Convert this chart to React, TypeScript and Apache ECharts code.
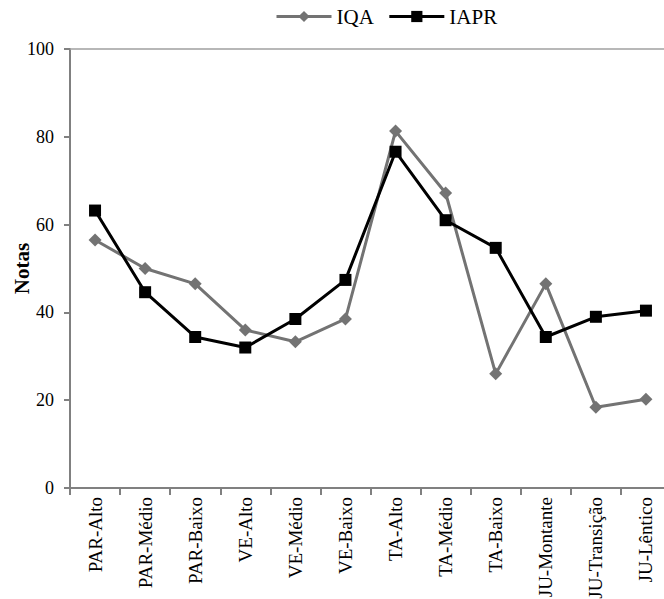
import React, { useEffect, useRef } from "react";
import * as echarts from "echarts";

const categories = [
  "PAR-Alto", "PAR-Médio", "PAR-Baixo", "VE-Alto", "VE-Médio", "VE-Baixo",
  "TA-Alto", "TA-Médio", "TA-Baixo", "JU-Montante", "JU-Transição", "JU-Lêntico",
];
const iqa = [56.5, 50, 46.5, 36, 33.3, 38.5, 81.3, 67.2, 26, 46.5, 18.4, 20.2];
const iapr = [63.2, 44.6, 34.4, 32, 38.5, 47.4, 76.6, 61, 54.7, 34.4, 39, 40.4];
const yTicks = [0, 20, 40, 60, 80, 100];

const FONT = "Liberation Serif";

export default function App() {
  const ref = useRef<HTMLDivElement>(null);
  useEffect(() => {
    const chart = echarts.init(ref.current!, undefined, { renderer: "svg" });
    chart.setOption({
      animation: false,
      backgroundColor: "#ffffff",
      textStyle: { fontFamily: FONT },
      legend: {
        top: 1,
        left: 270,
        itemWidth: 55,
        itemHeight: 14,
        itemGap: 14,
        lineStyle: { width: 3 },
        textStyle: { fontFamily: FONT, fontSize: 21, color: "#000" },
        data: ["IQA", "IAPR"],
      },
      grid: {
        left: 70,
        right: -7,
        top: 49,
        bottom: 111,
        containLabel: false,
        outerBoundsMode: "none",
      },
      xAxis: [
        {
          type: "category",
          data: categories,
          boundaryGap: true,
          axisLine: { lineStyle: { color: "#808080", width: 2 } },
          axisTick: { show: true, length: 7, lineStyle: { color: "#808080", width: 2 } },
          axisLabel: {
            rotate: 90,
            interval: 0,
            margin: 9,
            fontFamily: FONT,
            fontSize: 19,
            color: "#000",
          },
        },
        {
          type: "category",
          position: "top",
          data: categories,
          axisLine: { show: true, lineStyle: { color: "#a0a0a0", width: 1.5 } },
          axisTick: { show: false },
          axisLabel: { show: false },
        },
      ],
      yAxis: {
        type: "value",
        min: yTicks[0],
        max: yTicks[yTicks.length - 1],
        interval: 20,
        name: "Notas",
        nameLocation: "middle",
        nameGap: 38,
        nameMoveOverlap: false,
        nameTextStyle: { fontFamily: FONT, fontSize: 21, fontWeight: "bold", color: "#000" },
        axisLine: { show: true, lineStyle: { color: "#808080", width: 2 } },
        axisTick: { show: true, length: 6, lineStyle: { color: "#808080", width: 2 } },
        axisLabel: { fontFamily: FONT, fontSize: 18, color: "#000", margin: 16 },
        splitLine: { show: false },
      },
      series: [
        {
          name: "IQA",
          type: "line",
          data: iqa,
          symbol: "diamond",
          symbolSize: 13,
          color: "#737373",
          lineStyle: { width: 3, color: "#737373" },
          itemStyle: { color: "#737373" },
        },
        {
          name: "IAPR",
          type: "line",
          data: iapr,
          symbol: "rect",
          symbolSize: 12,
          color: "#000",
          lineStyle: { width: 3, color: "#000" },
          itemStyle: { color: "#000" },
        },
      ],
    });
    return () => chart.dispose();
  }, []);
  return <div ref={ref} style={{ width: 664, height: 599, position: "absolute", left: 0, top: 0 }} />;
}
